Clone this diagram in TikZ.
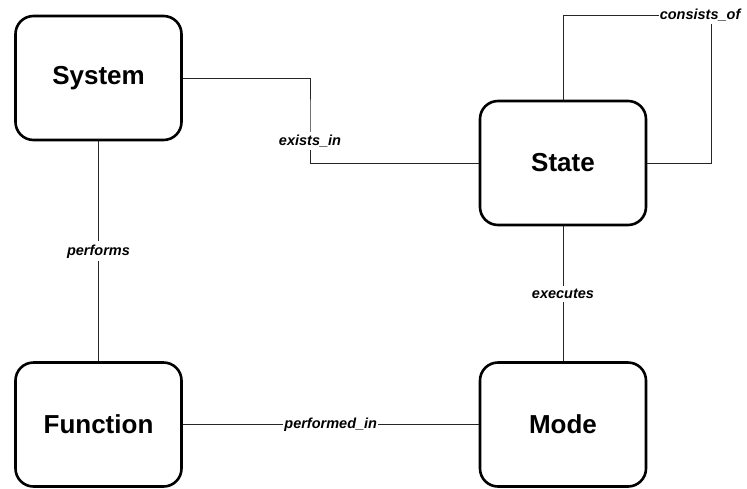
\documentclass[tikz,border=0pt]{standalone}
\usepackage{fontspec}
\setmainfont{Liberation Sans}
\usepackage{tikz}
\usetikzlibrary{calc}
\tikzstyle{entity} = [rectangle, rounded corners=18pt, draw=black, line width=2.6pt, minimum width=166pt, minimum height=124pt, font=\bfseries\fontsize{26}{30}\selectfont]
\tikzstyle{relname} = [fill=white, inner xsep=1pt, inner ysep=3pt, font=\bfseries\itshape\fontsize{14.5}{17}\selectfont]
\tikzstyle{link} = [line width=0.9pt, draw=black!85]

\begin{document}
\begin{tikzpicture}[x=1pt, y=-1pt]

        \useasboundingbox (0,0) rectangle (747,488);

        \node (system) [entity] at (98.5,78) {System};
        \node (state) [entity] at (563,163) {State};
        \node (function) [entity] at (98.5,424.5) {Function};
        \node (mode) [entity] at (563,424.5) {Mode};

        \coordinate (bend) at (310,120);
        \coordinate (loop) at (711,15);

        \draw[link] (system.east) -| (bend) |- (state.west);
        \node (existsin) [relname] at (310,141) {exists\_in};

        \draw[link] (state.north) |- node[relname, pos=0.963] {consists\_of} (loop) |- (state.east);

        \draw[link] (system) -- node[relname] {performs} (function);
        \draw[link] (state) -- node[relname] {executes} (mode);
        \draw[link] (function) -- node[relname] {performed\_in} (mode);

    \end{tikzpicture}
\end{document}
